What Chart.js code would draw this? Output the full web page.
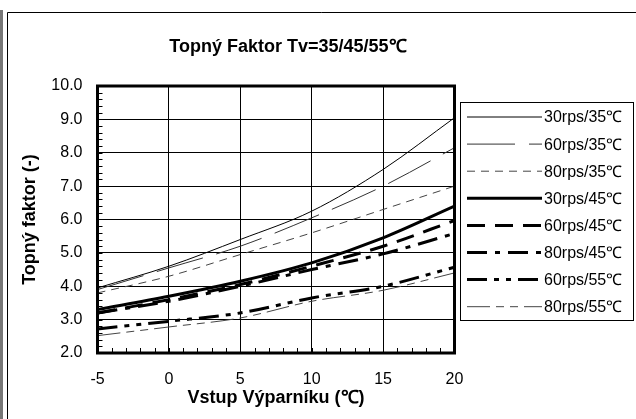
<!DOCTYPE html>
<html><head><meta charset="utf-8">
<script src="https://cdn.jsdelivr.net/npm/chart.js@4.4.0/dist/chart.umd.min.js"></script>
<style>html,body{margin:0;padding:0;background:#fff;overflow:hidden}canvas{display:block}</style>
</head><body>
<canvas id="c" width="636" height="419"></canvas>
<script>
const FONT = "'Liberation Sans', Arial, Helvetica, sans-serif";
const titleText = 'Topný Faktor Tv=35/45/55℃';
const xTitle = 'Vstup Výparníku (℃)';
const yTitle = 'Topný faktor (-)';
const xValues = [-5, 0, 5, 10, 15, 20];
const seriesLabels = ['30rps/35℃', '60rps/35℃', '80rps/35℃', '30rps/45℃', '60rps/45℃', '80rps/45℃', '60rps/55℃', '80rps/55℃'];
const s30_35 = [3.95, 4.60, 5.40, 6.25, 7.50, 9.05];
const s60_35 = [3.90, 4.55, 5.20, 6.05, 7.00, 8.15];
const s80_35 = [3.80, 4.30, 4.95, 5.60, 6.30, 7.00];
const s30_45 = [3.30, 3.70, 4.15, 4.70, 5.45, 6.40];
const s60_45 = [3.20, 3.60, 4.05, 4.60, 5.20, 5.97];
const s80_45 = [3.20, 3.55, 4.00, 4.50, 4.97, 5.58];
const s60_55 = [2.72, 2.95, 3.20, 3.65, 4.00, 4.57];
const s80_55 = [2.52, 2.78, 3.05, 3.55, 3.88, 4.40];
const seriesValues = [s30_35, s60_35, s80_35, s30_45, s60_45, s80_45, s60_55, s80_55];
const seriesStyles = [
  {color: '#000', width: 1, dash: []},
  {color: '#333', width: 1, dash: [48, 14]},
  {color: '#444', width: 1, dash: [8, 6]},
  {color: '#000', width: 3, dash: []},
  {color: '#000', width: 3, dash: [18, 10]},
  {color: '#000', width: 3, dash: [20, 8, 5, 8]},
  {color: '#000', width: 3, dash: [20, 7, 5, 7, 5, 7]},
  {color: '#444', width: 1, dash: [23, 6, 8, 6, 8, 6]}
];

const datasets = seriesLabels.map((lab, i) => ({
  label: lab,
  data: xValues.map((x, j) => ({x: x, y: seriesValues[i][j]})),
  borderColor: seriesStyles[i].color,
  borderWidth: seriesStyles[i].width,
  borderDash: seriesStyles[i].dash,
  pointRadius: 0,
  fill: false,
  cubicInterpolationMode: 'monotone'
}));

const decor = {
  id: 'decor',
  beforeDraw(chart) {
    const ctx = chart.ctx;
    ctx.save();
    ctx.fillStyle = '#fff';
    ctx.fillRect(0, 0, chart.width, chart.height);
    ctx.fillStyle = '#777';
    ctx.fillRect(0, 10, 3, chart.height - 10);
    ctx.strokeStyle = '#000';
    ctx.lineWidth = 1;
    ctx.beginPath();
    ctx.moveTo(7.5, chart.height);
    ctx.lineTo(7.5, 12.5);
    ctx.lineTo(chart.width, 12.5);
    ctx.stroke();
    ctx.restore();
  },
  afterDatasetsDraw(chart) {
    const ctx = chart.ctx;
    const a = chart.chartArea;
    const xs = chart.scales.x, ys = chart.scales.y;
    ctx.save();
    ctx.strokeStyle = '#000';
    ctx.lineWidth = 1;
    ctx.beginPath();
    for (let v = 2; v <= 10.001; v += 0.2) {
      const py = Math.round(ys.getPixelForValue(v)) + 0.5;
      ctx.moveTo(a.left, py);
      ctx.lineTo(a.left + 5, py);
    }
    for (let v = -5; v <= 20; v += 1) {
      const px = Math.round(xs.getPixelForValue(v)) + 0.5;
      ctx.moveTo(px, a.bottom);
      ctx.lineTo(px, a.bottom - 5);
    }
    ctx.stroke();
    ctx.lineWidth = 3;
    ctx.strokeRect(a.left, a.top, a.right - a.left, a.bottom - a.top);
    ctx.restore();
  },
  afterDraw(chart) {
    const ctx = chart.ctx;
    ctx.save();
    ctx.fillStyle = '#000';
    ctx.font = 'bold 18px ' + FONT;
    ctx.textAlign = 'center';
    ctx.textBaseline = 'middle';
    ctx.fillText(titleText, 288, 47);
    const lx = 460.5, ly = 102.5, lw = 173, lh = 218;
    ctx.lineWidth = 1;
    ctx.strokeStyle = '#000';
    ctx.strokeRect(lx, ly, lw, lh);
    ctx.font = '16px ' + FONT;
    ctx.textAlign = 'left';
    chart.data.datasets.forEach((ds, i) => {
      const y = 117 + i * 27.1;
      ctx.save();
      ctx.strokeStyle = ds.borderColor;
      ctx.lineWidth = ds.borderWidth;
      ctx.setLineDash(ds.borderDash);
      ctx.beginPath();
      ctx.moveTo(467, y);
      ctx.lineTo(542, y);
      ctx.stroke();
      ctx.restore();
      ctx.fillStyle = '#000';
      ctx.fillText(ds.label, 544, y + 1);
    });
    ctx.restore();
  }
};

new Chart(document.getElementById('c'), {
  type: 'line',
  data: {datasets: datasets},
  options: {
    responsive: false,
    animation: false,
    devicePixelRatio: 1,
    layout: {padding: {left: 8, right: 181.5, top: 86, bottom: 0}},
    plugins: {legend: {display: false}, title: {display: false}, tooltip: {enabled: false}},
    scales: {
      x: {
        type: 'linear', min: -5, max: 20,
        afterFit(s) { s.height = 66; },
        ticks: {stepSize: 5, padding: 17, color: '#000', font: {family: FONT, size: 16}},
        grid: {color: '#000', lineWidth: 1, drawTicks: false},
        border: {display: false},
        title: {display: true, text: xTitle, color: '#000', font: {family: FONT, size: 18, weight: 'bold'}, padding: {top: 0, bottom: 10}}
      },
      y: {
        type: 'linear', min: 2, max: 10,
        afterFit(s) { s.width = 89.5; },
        ticks: {stepSize: 1, padding: 15, color: '#000', font: {family: FONT, size: 16}, callback: v => Number(v).toFixed(1)},
        grid: {color: '#000', lineWidth: 1, drawTicks: false},
        border: {display: false},
        title: {display: true, text: yTitle, color: '#000', font: {family: FONT, size: 18, weight: 'bold'}, padding: {top: 11, bottom: 0}}
      }
    }
  },
  plugins: [decor]
});
</script>
</body></html>
